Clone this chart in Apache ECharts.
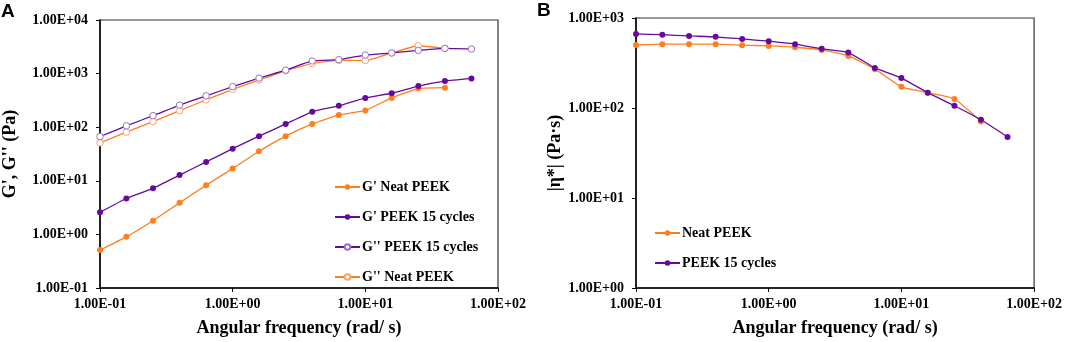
<!DOCTYPE html>
<html>
<head>
<meta charset="utf-8">
<script src="https://cdn.jsdelivr.net/npm/echarts@6/dist/echarts.min.js"></script>
<style>
  html, body { margin: 0; padding: 0; background: #fff; }
  #chart { width: 1065px; height: 342px; }
</style>
</head>
<body>
<div id="chart"></div>
<script>
// angular frequency (rad/s), shared by both panels
var freq = [0.1, 0.158, 0.251, 0.398, 0.631, 1, 1.58, 2.51, 3.98, 6.31, 10, 15.8, 25.1, 39.8, 63.1];

// panel A: storage / loss modulus (Pa)
var gPrimeNeat = [0.51, 0.90, 1.80, 3.88, 8.3, 16.9, 35.5, 68, 115, 169, 206, 352, 525, 547];
var gPrimeCycles = [2.58, 4.68, 7.24, 12.8, 22.5, 39.7, 68, 115, 194, 250, 352, 430, 586, 724, 813];
var gDoubleCycles = [67, 106, 164, 258, 384, 571, 824, 1160, 1720, 1820, 2220, 2430, 2710, 2950, 2870];
var gDoubleNeat = [51, 81, 127, 203, 324, 509, 757, 1130, 1540, 1770, 1750, 2430, 3310, 2950];

// panel B: complex viscosity (Pa·s)
var etaNeat = [502, 512, 512, 512, 499, 490, 473, 442, 379, 270, 172, 148, 126, 71];
var etaCycles = [665, 653, 632, 617, 585, 552, 512, 454, 413, 279, 215, 148, 106, 74, 47.7];

var ORANGE = '#FF7F1E';
var PURPLE = '#660A9C';
var serif = 'Liberation Serif';

function pairs(vals) {
  return vals.map(function (v, i) { return [freq[i], v]; });
}

// 1.00E+01 style labels
function sci(v) {
  var e = Math.round(Math.log10(v));
  var m = v / Math.pow(10, e);
  return m.toFixed(2) + 'E' + (e < 0 ? '-' : '+') + String(Math.abs(e)).padStart(2, '0');
}

function xAx(idx) {
  return {
    type: 'log', gridIndex: idx, min: 0.1, max: 100, logBase: 10,
    name: 'Angular frequency (rad/ s)', nameLocation: 'middle', nameGap: 31,
    nameTextStyle: { fontFamily: serif, fontWeight: 'bold', fontSize: 18, color: '#000' },
    axisLine: { lineStyle: { color: '#000', width: 1.5 } },
    axisTick: { show: true, length: 4, lineStyle: { color: '#000' } },
    minorTick: { show: false },
    splitLine: { show: false },
    axisLabel: { formatter: sci, margin: 9, fontFamily: serif, fontWeight: 'bold', fontSize: 14, color: '#000' }
  };
}

function yAx(idx, min, max, name, gap) {
  return {
    type: 'log', gridIndex: idx, min: min, max: max, logBase: 10,
    name: name, nameLocation: 'middle', nameGap: gap,
    nameTextStyle: { fontFamily: serif, fontWeight: 'bold', fontSize: 18, color: '#000' },
    axisLine: { lineStyle: { color: '#000', width: 1.5 } },
    axisTick: { show: true, length: 4, lineStyle: { color: '#000' } },
    splitLine: { show: false },
    axisLabel: { formatter: sci, margin: 12, fontFamily: serif, fontWeight: 'bold', fontSize: 14, color: '#000' }
  };
}

function line(name, vals, xi, color, open, borderColor) {
  return {
    name: name, type: 'line', xAxisIndex: xi, yAxisIndex: xi,
    data: pairs(vals),
    smooth: 0.15,
    symbol: 'circle',
    symbolSize: open ? 6.5 : 6,
    lineStyle: { color: color, width: 1.3 },
    itemStyle: open
      ? { color: '#fff', borderColor: borderColor, borderWidth: 1 }
      : { color: color, borderColor: color, borderWidth: 0 },
    emphasis: { disabled: true },
    z: open ? 2 : 3
  };
}

var legendText = { fontFamily: serif, fontWeight: 'bold', fontSize: 14, color: '#000', padding: [0, 0, 0, -3] };

var chart = echarts.init(document.getElementById('chart'), null, { renderer: 'canvas' });

chart.setOption({
  animation: false,
  backgroundColor: '#fff',
  graphic: [
    { type: 'text', left: 1, top: 2, style: { text: 'A', font: 'bold 19px "Liberation Sans"', fill: '#000' } },
    { type: 'text', left: 537, top: 1, style: { text: 'B', font: 'bold 19px "Liberation Sans"', fill: '#000' } }
  ],
  grid: [
    { left: 98, top: 20, width: 400, height: 271, show: true, borderColor: '#333', borderWidth: 1.2, backgroundColor: 'transparent' },
    { left: 636, top: 18, width: 400, height: 271, show: true, borderColor: '#333', borderWidth: 1.2, backgroundColor: 'transparent' }
  ],
  xAxis: [xAx(0), xAx(1)],
  yAxis: [
    yAx(0, 0.1, 10000, "G', G'' (Pa)", 81),
    yAx(1, 1, 1000, '|η*| (Pa·s)', 71)
  ],
  legend: [
    {
      data: ["G' Neat PEEK", "G' PEEK 15 cycles", "G'' PEEK 15 cycles", "G'' Neat PEEK"],
      orient: 'vertical', left: 334, top: 180, padding: 0,
      itemWidth: 25, itemHeight: 7, itemGap: 16,
      textStyle: legendText,
      selectedMode: false
    },
    {
      data: ['Neat PEEK', 'PEEK 15 cycles'],
      orient: 'vertical', left: 654, top: 226, padding: 0,
      itemWidth: 25, itemHeight: 7, itemGap: 16,
      textStyle: legendText,
      selectedMode: false
    }
  ],
  series: [
    line("G'' Neat PEEK", gDoubleNeat, 0, ORANGE, true, '#F7A46C'),
    line("G'' PEEK 15 cycles", gDoubleCycles, 0, PURPLE, true, '#9A72C2'),
    line("G' Neat PEEK", gPrimeNeat, 0, ORANGE, false),
    line("G' PEEK 15 cycles", gPrimeCycles, 0, PURPLE, false),
    line('Neat PEEK', etaNeat, 1, ORANGE, false),
    line('PEEK 15 cycles', etaCycles, 1, PURPLE, false)
  ]
});

window.addEventListener('resize', function () {
  chart.resize();
});
</script>
</body>
</html>
